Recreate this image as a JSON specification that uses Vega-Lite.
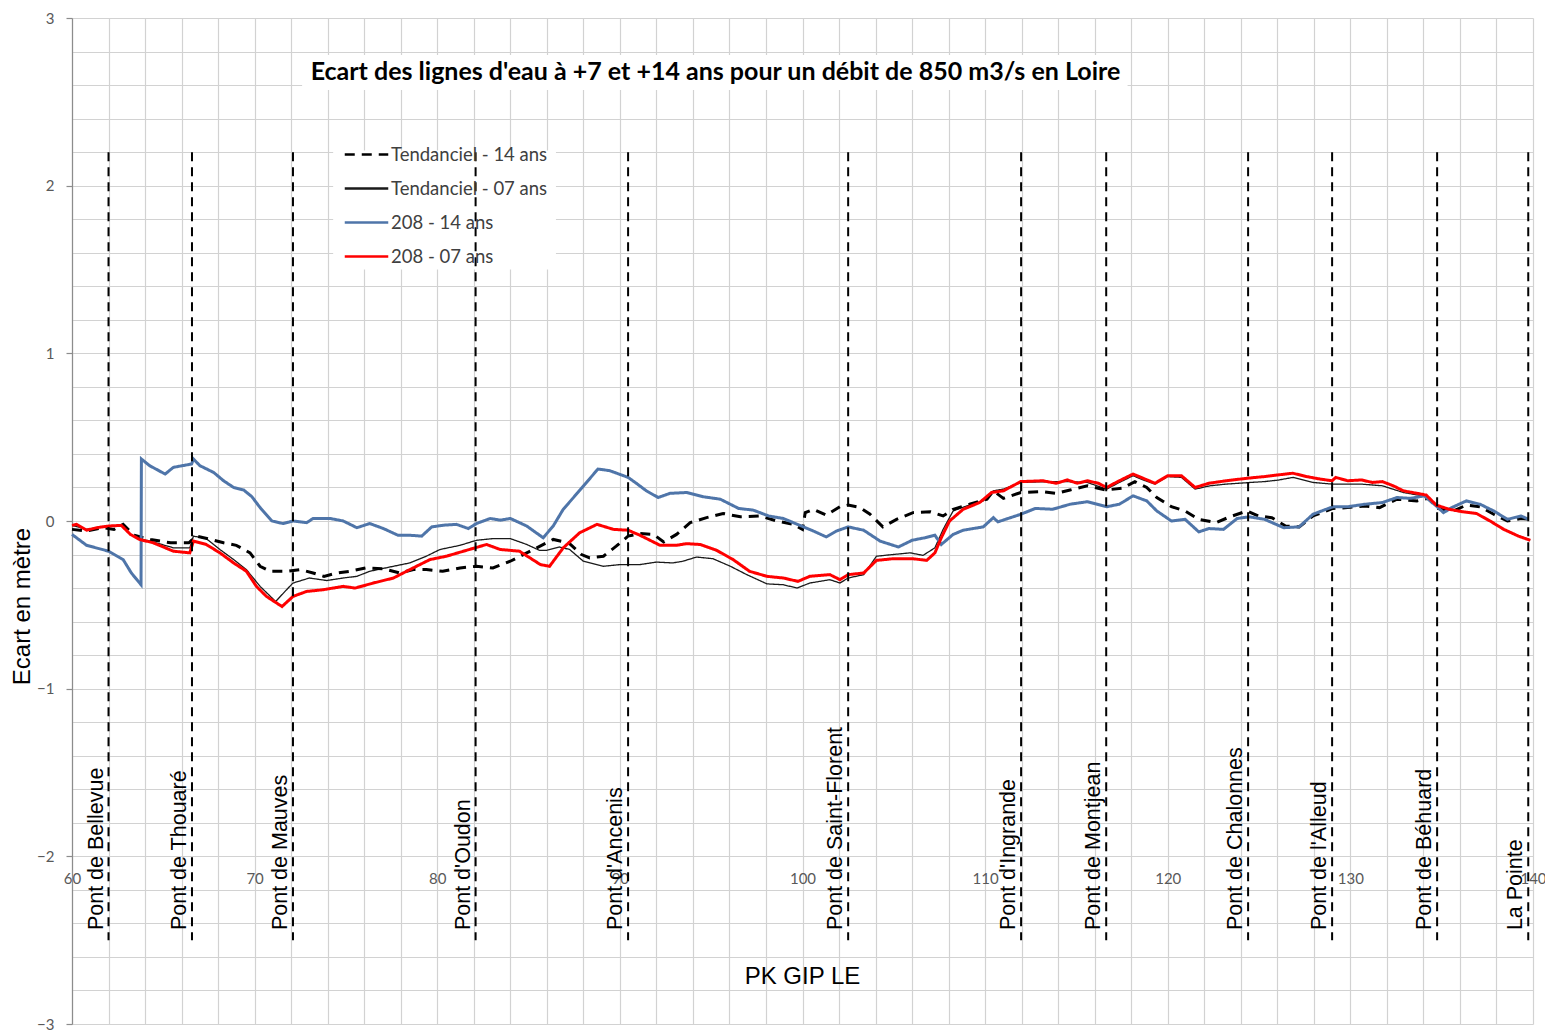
{
  "$schema": "https://vega.github.io/schema/vega-lite/v6.json",
  "width": 1461,
  "height": 1006,
  "autosize": {"type": "none"},
  "padding": {"left": 72, "top": 18, "right": 12, "bottom": 6},
  "background": "white",
  "config": {"view": {"stroke": null}, "font": "Liberation Sans"},
  "title": {
    "text": "Ecart des lignes d'eau à +7 et +14 ans pour un débit de  850 m3/s en Loire",
    "font": "Lato", "fontSize": 25, "fontWeight": "bold", "color": "#000000",
    "anchor": "middle", "frame": "group", "dx": -87, "offset": -94, "baseline": "alphabetic", "orient": "top"
  },
  "datasets": {
    "bridges": [
      {"name": "Pont de Bellevue", "pk": 62.0},
      {"name": "Pont de Thouaré", "pk": 66.57},
      {"name": "Pont de Mauves", "pk": 72.1},
      {"name": "Pont d'Oudon", "pk": 82.1},
      {"name": "Pont d'Ancenis", "pk": 90.45},
      {"name": "Pont de Saint-Florent", "pk": 102.5},
      {"name": "Pont d'Ingrande", "pk": 111.97},
      {"name": "Pont de Montjean", "pk": 116.63},
      {"name": "Pont de Chalonnes", "pk": 124.4},
      {"name": "Pont de l'Alleud", "pk": 129.0},
      {"name": "Pont de Béhuard", "pk": 134.75},
      {"name": "La Pointe", "pk": 139.74}
    ],
    "series": [
      {"serie":"Tendanciel - 14 ans","pk":60,"ecart":-0.05},{"serie":"Tendanciel - 14 ans","pk":60.8,"ecart":-0.06},{"serie":"Tendanciel - 14 ans","pk":61.7,"ecart":-0.04},{"serie":"Tendanciel - 14 ans","pk":62.3,"ecart":-0.05},{"serie":"Tendanciel - 14 ans","pk":62.8,"ecart":-0.02},{"serie":"Tendanciel - 14 ans","pk":63.4,"ecart":-0.085},{"serie":"Tendanciel - 14 ans","pk":64.3,"ecart":-0.11},{"serie":"Tendanciel - 14 ans","pk":65.4,"ecart":-0.13},{"serie":"Tendanciel - 14 ans","pk":66.4,"ecart":-0.13},{"serie":"Tendanciel - 14 ans","pk":66.8,"ecart":-0.09},{"serie":"Tendanciel - 14 ans","pk":67.6,"ecart":-0.11},{"serie":"Tendanciel - 14 ans","pk":68.3,"ecart":-0.13},{"serie":"Tendanciel - 14 ans","pk":69.0,"ecart":-0.145},{"serie":"Tendanciel - 14 ans","pk":69.75,"ecart":-0.19},{"serie":"Tendanciel - 14 ans","pk":70.3,"ecart":-0.27},{"serie":"Tendanciel - 14 ans","pk":70.85,"ecart":-0.3},{"serie":"Tendanciel - 14 ans","pk":71.75,"ecart":-0.3},{"serie":"Tendanciel - 14 ans","pk":72.5,"ecart":-0.29},{"serie":"Tendanciel - 14 ans","pk":73.2,"ecart":-0.31},{"serie":"Tendanciel - 14 ans","pk":73.8,"ecart":-0.33},{"serie":"Tendanciel - 14 ans","pk":74.5,"ecart":-0.31},{"serie":"Tendanciel - 14 ans","pk":75.2,"ecart":-0.3},{"serie":"Tendanciel - 14 ans","pk":76.1,"ecart":-0.28},{"serie":"Tendanciel - 14 ans","pk":77.05,"ecart":-0.285},{"serie":"Tendanciel - 14 ans","pk":77.95,"ecart":-0.31},{"serie":"Tendanciel - 14 ans","pk":78.7,"ecart":-0.29},{"serie":"Tendanciel - 14 ans","pk":79.4,"ecart":-0.29},{"serie":"Tendanciel - 14 ans","pk":80.3,"ecart":-0.3},{"serie":"Tendanciel - 14 ans","pk":81.25,"ecart":-0.28},{"serie":"Tendanciel - 14 ans","pk":82.15,"ecart":-0.27},{"serie":"Tendanciel - 14 ans","pk":83.05,"ecart":-0.28},{"serie":"Tendanciel - 14 ans","pk":84.0,"ecart":-0.24},{"serie":"Tendanciel - 14 ans","pk":84.55,"ecart":-0.21},{"serie":"Tendanciel - 14 ans","pk":85.45,"ecart":-0.16},{"serie":"Tendanciel - 14 ans","pk":86.35,"ecart":-0.11},{"serie":"Tendanciel - 14 ans","pk":87.2,"ecart":-0.13},{"serie":"Tendanciel - 14 ans","pk":87.9,"ecart":-0.2},{"serie":"Tendanciel - 14 ans","pk":88.35,"ecart":-0.22},{"serie":"Tendanciel - 14 ans","pk":89.1,"ecart":-0.21},{"serie":"Tendanciel - 14 ans","pk":89.8,"ecart":-0.15},{"serie":"Tendanciel - 14 ans","pk":90.45,"ecart":-0.09},{"serie":"Tendanciel - 14 ans","pk":91.1,"ecart":-0.075},{"serie":"Tendanciel - 14 ans","pk":91.85,"ecart":-0.08},{"serie":"Tendanciel - 14 ans","pk":92.4,"ecart":-0.125},{"serie":"Tendanciel - 14 ans","pk":93.1,"ecart":-0.08},{"serie":"Tendanciel - 14 ans","pk":93.85,"ecart":-0.01},{"serie":"Tendanciel - 14 ans","pk":94.75,"ecart":0.02},{"serie":"Tendanciel - 14 ans","pk":95.65,"ecart":0.045},{"serie":"Tendanciel - 14 ans","pk":96.6,"ecart":0.025},{"serie":"Tendanciel - 14 ans","pk":97.65,"ecart":0.03},{"serie":"Tendanciel - 14 ans","pk":98.6,"ecart":0.0},{"serie":"Tendanciel - 14 ans","pk":99.5,"ecart":-0.02},{"serie":"Tendanciel - 14 ans","pk":100.0,"ecart":-0.05},{"serie":"Tendanciel - 14 ans","pk":100.15,"ecart":0.05},{"serie":"Tendanciel - 14 ans","pk":100.6,"ecart":0.07},{"serie":"Tendanciel - 14 ans","pk":101.3,"ecart":0.035},{"serie":"Tendanciel - 14 ans","pk":102.05,"ecart":0.085},{"serie":"Tendanciel - 14 ans","pk":102.5,"ecart":0.095},{"serie":"Tendanciel - 14 ans","pk":103.15,"ecart":0.08},{"serie":"Tendanciel - 14 ans","pk":103.7,"ecart":0.04},{"serie":"Tendanciel - 14 ans","pk":104.4,"ecart":-0.035},{"serie":"Tendanciel - 14 ans","pk":105.15,"ecart":0.01},{"serie":"Tendanciel - 14 ans","pk":106.05,"ecart":0.05},{"serie":"Tendanciel - 14 ans","pk":107.0,"ecart":0.055},{"serie":"Tendanciel - 14 ans","pk":107.7,"ecart":0.03},{"serie":"Tendanciel - 14 ans","pk":108.25,"ecart":0.07},{"serie":"Tendanciel - 14 ans","pk":109.15,"ecart":0.1},{"serie":"Tendanciel - 14 ans","pk":110.1,"ecart":0.13},{"serie":"Tendanciel - 14 ans","pk":110.45,"ecart":0.18},{"serie":"Tendanciel - 14 ans","pk":111.0,"ecart":0.135},{"serie":"Tendanciel - 14 ans","pk":111.95,"ecart":0.17},{"serie":"Tendanciel - 14 ans","pk":113.15,"ecart":0.175},{"serie":"Tendanciel - 14 ans","pk":113.9,"ecart":0.165},{"serie":"Tendanciel - 14 ans","pk":114.65,"ecart":0.185},{"serie":"Tendanciel - 14 ans","pk":115.6,"ecart":0.21},{"serie":"Tendanciel - 14 ans","pk":116.6,"ecart":0.185},{"serie":"Tendanciel - 14 ans","pk":117.5,"ecart":0.195},{"serie":"Tendanciel - 14 ans","pk":118.2,"ecart":0.235},{"serie":"Tendanciel - 14 ans","pk":118.85,"ecart":0.2},{"serie":"Tendanciel - 14 ans","pk":119.4,"ecart":0.14},{"serie":"Tendanciel - 14 ans","pk":120.2,"ecart":0.085},{"serie":"Tendanciel - 14 ans","pk":120.95,"ecart":0.06},{"serie":"Tendanciel - 14 ans","pk":121.7,"ecart":0.01},{"serie":"Tendanciel - 14 ans","pk":122.65,"ecart":-0.01},{"serie":"Tendanciel - 14 ans","pk":123.4,"ecart":0.025},{"serie":"Tendanciel - 14 ans","pk":124.35,"ecart":0.06},{"serie":"Tendanciel - 14 ans","pk":124.95,"ecart":0.03},{"serie":"Tendanciel - 14 ans","pk":125.7,"ecart":0.02},{"serie":"Tendanciel - 14 ans","pk":126.45,"ecart":-0.03},{"serie":"Tendanciel - 14 ans","pk":127.2,"ecart":-0.035},{"serie":"Tendanciel - 14 ans","pk":127.95,"ecart":0.03},{"serie":"Tendanciel - 14 ans","pk":129.05,"ecart":0.075},{"serie":"Tendanciel - 14 ans","pk":129.85,"ecart":0.08},{"serie":"Tendanciel - 14 ans","pk":130.8,"ecart":0.09},{"serie":"Tendanciel - 14 ans","pk":131.6,"ecart":0.08},{"serie":"Tendanciel - 14 ans","pk":132.55,"ecart":0.13},{"serie":"Tendanciel - 14 ans","pk":133.65,"ecart":0.12},{"serie":"Tendanciel - 14 ans","pk":134.25,"ecart":0.135},{"serie":"Tendanciel - 14 ans","pk":134.8,"ecart":0.075},{"serie":"Tendanciel - 14 ans","pk":135.55,"ecart":0.055},{"serie":"Tendanciel - 14 ans","pk":136.35,"ecart":0.095},{"serie":"Tendanciel - 14 ans","pk":137.1,"ecart":0.085},{"serie":"Tendanciel - 14 ans","pk":137.85,"ecart":0.04},{"serie":"Tendanciel - 14 ans","pk":138.6,"ecart":0.0},{"serie":"Tendanciel - 14 ans","pk":139.35,"ecart":0.015},{"serie":"Tendanciel - 14 ans","pk":139.85,"ecart":0.01},

      {"serie":"Tendanciel - 07 ans","pk":60,"ecart":-0.026},{"serie":"Tendanciel - 07 ans","pk":60.8,"ecart":-0.05},{"serie":"Tendanciel - 07 ans","pk":61.35,"ecart":-0.04},{"serie":"Tendanciel - 07 ans","pk":62.0,"ecart":-0.03},{"serie":"Tendanciel - 07 ans","pk":62.7,"ecart":-0.026},{"serie":"Tendanciel - 07 ans","pk":63.2,"ecart":-0.08},{"serie":"Tendanciel - 07 ans","pk":63.7,"ecart":-0.105},{"serie":"Tendanciel - 07 ans","pk":64.45,"ecart":-0.125},{"serie":"Tendanciel - 07 ans","pk":65.55,"ecart":-0.16},{"serie":"Tendanciel - 07 ans","pk":66.45,"ecart":-0.16},{"serie":"Tendanciel - 07 ans","pk":66.65,"ecart":-0.09},{"serie":"Tendanciel - 07 ans","pk":67.35,"ecart":-0.105},{"serie":"Tendanciel - 07 ans","pk":68.1,"ecart":-0.17},{"serie":"Tendanciel - 07 ans","pk":68.85,"ecart":-0.23},{"serie":"Tendanciel - 07 ans","pk":69.55,"ecart":-0.29},{"serie":"Tendanciel - 07 ans","pk":70.3,"ecart":-0.39},{"serie":"Tendanciel - 07 ans","pk":71.15,"ecart":-0.48},{"serie":"Tendanciel - 07 ans","pk":71.75,"ecart":-0.41},{"serie":"Tendanciel - 07 ans","pk":72.1,"ecart":-0.37},{"serie":"Tendanciel - 07 ans","pk":73.0,"ecart":-0.34},{"serie":"Tendanciel - 07 ans","pk":73.95,"ecart":-0.355},{"serie":"Tendanciel - 07 ans","pk":74.85,"ecart":-0.34},{"serie":"Tendanciel - 07 ans","pk":75.6,"ecart":-0.33},{"serie":"Tendanciel - 07 ans","pk":76.3,"ecart":-0.3},{"serie":"Tendanciel - 07 ans","pk":77.6,"ecart":-0.27},{"serie":"Tendanciel - 07 ans","pk":78.5,"ecart":-0.25},{"serie":"Tendanciel - 07 ans","pk":79.4,"ecart":-0.21},{"serie":"Tendanciel - 07 ans","pk":80.15,"ecart":-0.17},{"serie":"Tendanciel - 07 ans","pk":81.25,"ecart":-0.145},{"serie":"Tendanciel - 07 ans","pk":82.15,"ecart":-0.115},{"serie":"Tendanciel - 07 ans","pk":83.05,"ecart":-0.105},{"serie":"Tendanciel - 07 ans","pk":84.0,"ecart":-0.105},{"serie":"Tendanciel - 07 ans","pk":84.9,"ecart":-0.14},{"serie":"Tendanciel - 07 ans","pk":85.6,"ecart":-0.175},{"serie":"Tendanciel - 07 ans","pk":86.0,"ecart":-0.175},{"serie":"Tendanciel - 07 ans","pk":86.7,"ecart":-0.155},{"serie":"Tendanciel - 07 ans","pk":87.25,"ecart":-0.17},{"serie":"Tendanciel - 07 ans","pk":88.0,"ecart":-0.24},{"serie":"Tendanciel - 07 ans","pk":89.1,"ecart":-0.27},{"serie":"Tendanciel - 07 ans","pk":90.0,"ecart":-0.26},{"serie":"Tendanciel - 07 ans","pk":91.1,"ecart":-0.26},{"serie":"Tendanciel - 07 ans","pk":92.0,"ecart":-0.245},{"serie":"Tendanciel - 07 ans","pk":92.9,"ecart":-0.25},{"serie":"Tendanciel - 07 ans","pk":93.45,"ecart":-0.24},{"serie":"Tendanciel - 07 ans","pk":94.2,"ecart":-0.215},{"serie":"Tendanciel - 07 ans","pk":95.1,"ecart":-0.225},{"serie":"Tendanciel - 07 ans","pk":96.05,"ecart":-0.27},{"serie":"Tendanciel - 07 ans","pk":96.95,"ecart":-0.32},{"serie":"Tendanciel - 07 ans","pk":98.05,"ecart":-0.375},{"serie":"Tendanciel - 07 ans","pk":98.95,"ecart":-0.38},{"serie":"Tendanciel - 07 ans","pk":99.7,"ecart":-0.4},{"serie":"Tendanciel - 07 ans","pk":100.4,"ecart":-0.37},{"serie":"Tendanciel - 07 ans","pk":101.5,"ecart":-0.35},{"serie":"Tendanciel - 07 ans","pk":102.05,"ecart":-0.37},{"serie":"Tendanciel - 07 ans","pk":102.5,"ecart":-0.34},{"serie":"Tendanciel - 07 ans","pk":103.35,"ecart":-0.32},{"serie":"Tendanciel - 07 ans","pk":104.05,"ecart":-0.21},{"serie":"Tendanciel - 07 ans","pk":104.95,"ecart":-0.2},{"serie":"Tendanciel - 07 ans","pk":105.9,"ecart":-0.19},{"serie":"Tendanciel - 07 ans","pk":106.6,"ecart":-0.205},{"serie":"Tendanciel - 07 ans","pk":107.25,"ecart":-0.16},{"serie":"Tendanciel - 07 ans","pk":107.7,"ecart":-0.05},{"serie":"Tendanciel - 07 ans","pk":108.25,"ecart":0.06},{"serie":"Tendanciel - 07 ans","pk":109.0,"ecart":0.09},{"serie":"Tendanciel - 07 ans","pk":109.9,"ecart":0.12},{"serie":"Tendanciel - 07 ans","pk":110.45,"ecart":0.18},{"serie":"Tendanciel - 07 ans","pk":111.0,"ecart":0.19},{"serie":"Tendanciel - 07 ans","pk":111.95,"ecart":0.23},{"serie":"Tendanciel - 07 ans","pk":113.15,"ecart":0.234},{"serie":"Tendanciel - 07 ans","pk":114.5,"ecart":0.235},{"serie":"Tendanciel - 07 ans","pk":115.6,"ecart":0.23},{"serie":"Tendanciel - 07 ans","pk":116.65,"ecart":0.19},{"serie":"Tendanciel - 07 ans","pk":117.35,"ecart":0.23},{"serie":"Tendanciel - 07 ans","pk":118.1,"ecart":0.27},{"serie":"Tendanciel - 07 ans","pk":118.65,"ecart":0.245},{"serie":"Tendanciel - 07 ans","pk":119.3,"ecart":0.22},{"serie":"Tendanciel - 07 ans","pk":120.0,"ecart":0.265},{"serie":"Tendanciel - 07 ans","pk":120.75,"ecart":0.26},{"serie":"Tendanciel - 07 ans","pk":121.5,"ecart":0.19},{"serie":"Tendanciel - 07 ans","pk":122.3,"ecart":0.21},{"serie":"Tendanciel - 07 ans","pk":123.2,"ecart":0.22},{"serie":"Tendanciel - 07 ans","pk":124.55,"ecart":0.23},{"serie":"Tendanciel - 07 ans","pk":125.3,"ecart":0.235},{"serie":"Tendanciel - 07 ans","pk":126.05,"ecart":0.244},{"serie":"Tendanciel - 07 ans","pk":126.85,"ecart":0.26},{"serie":"Tendanciel - 07 ans","pk":127.95,"ecart":0.23},{"serie":"Tendanciel - 07 ans","pk":129.0,"ecart":0.22},{"serie":"Tendanciel - 07 ans","pk":130.6,"ecart":0.22},{"serie":"Tendanciel - 07 ans","pk":131.75,"ecart":0.21},{"serie":"Tendanciel - 07 ans","pk":132.9,"ecart":0.17},{"serie":"Tendanciel - 07 ans","pk":134.15,"ecart":0.146},{"serie":"Tendanciel - 07 ans","pk":134.7,"ecart":0.09},{"serie":"Tendanciel - 07 ans","pk":135.4,"ecart":0.07},{"serie":"Tendanciel - 07 ans","pk":136.15,"ecart":0.056},{"serie":"Tendanciel - 07 ans","pk":136.9,"ecart":0.044},{"serie":"Tendanciel - 07 ans","pk":137.65,"ecart":0.0},{"serie":"Tendanciel - 07 ans","pk":138.4,"ecart":-0.05},{"serie":"Tendanciel - 07 ans","pk":139.2,"ecart":-0.09},{"serie":"Tendanciel - 07 ans","pk":139.85,"ecart":-0.114},

      {"serie":"208 - 14 ans","pk":60,"ecart":-0.08},{"serie":"208 - 14 ans","pk":60.8,"ecart":-0.145},{"serie":"208 - 14 ans","pk":62.0,"ecart":-0.18},{"serie":"208 - 14 ans","pk":62.8,"ecart":-0.23},{"serie":"208 - 14 ans","pk":63.25,"ecart":-0.31},{"serie":"208 - 14 ans","pk":63.78,"ecart":-0.38},{"serie":"208 - 14 ans","pk":63.8,"ecart":0.37},{"serie":"208 - 14 ans","pk":64.25,"ecart":0.33},{"serie":"208 - 14 ans","pk":65.1,"ecart":0.28},{"serie":"208 - 14 ans","pk":65.55,"ecart":0.32},{"serie":"208 - 14 ans","pk":66.55,"ecart":0.34},{"serie":"208 - 14 ans","pk":66.65,"ecart":0.37},{"serie":"208 - 14 ans","pk":67.0,"ecart":0.33},{"serie":"208 - 14 ans","pk":67.75,"ecart":0.29},{"serie":"208 - 14 ans","pk":68.3,"ecart":0.24},{"serie":"208 - 14 ans","pk":68.85,"ecart":0.2},{"serie":"208 - 14 ans","pk":69.4,"ecart":0.185},{"serie":"208 - 14 ans","pk":69.85,"ecart":0.145},{"serie":"208 - 14 ans","pk":70.3,"ecart":0.08},{"serie":"208 - 14 ans","pk":70.95,"ecart":0.0},{"serie":"208 - 14 ans","pk":71.55,"ecart":-0.015},{"serie":"208 - 14 ans","pk":72.1,"ecart":0.0},{"serie":"208 - 14 ans","pk":72.85,"ecart":-0.01},{"serie":"208 - 14 ans","pk":73.2,"ecart":0.015},{"serie":"208 - 14 ans","pk":74.15,"ecart":0.015},{"serie":"208 - 14 ans","pk":74.85,"ecart":0.0},{"serie":"208 - 14 ans","pk":75.6,"ecart":-0.04},{"serie":"208 - 14 ans","pk":76.3,"ecart":-0.015},{"serie":"208 - 14 ans","pk":77.05,"ecart":-0.045},{"serie":"208 - 14 ans","pk":77.85,"ecart":-0.085},{"serie":"208 - 14 ans","pk":78.5,"ecart":-0.085},{"serie":"208 - 14 ans","pk":79.15,"ecart":-0.09},{"serie":"208 - 14 ans","pk":79.7,"ecart":-0.035},{"serie":"208 - 14 ans","pk":80.35,"ecart":-0.025},{"serie":"208 - 14 ans","pk":81.05,"ecart":-0.02},{"serie":"208 - 14 ans","pk":81.7,"ecart":-0.045},{"serie":"208 - 14 ans","pk":82.15,"ecart":-0.015},{"serie":"208 - 14 ans","pk":82.9,"ecart":0.015},{"serie":"208 - 14 ans","pk":83.45,"ecart":0.005},{"serie":"208 - 14 ans","pk":84.0,"ecart":0.015},{"serie":"208 - 14 ans","pk":84.9,"ecart":-0.03},{"serie":"208 - 14 ans","pk":85.8,"ecart":-0.1},{"serie":"208 - 14 ans","pk":86.35,"ecart":-0.03},{"serie":"208 - 14 ans","pk":86.9,"ecart":0.07},{"serie":"208 - 14 ans","pk":87.7,"ecart":0.17},{"serie":"208 - 14 ans","pk":88.25,"ecart":0.24},{"serie":"208 - 14 ans","pk":88.8,"ecart":0.31},{"serie":"208 - 14 ans","pk":89.45,"ecart":0.3},{"serie":"208 - 14 ans","pk":90.45,"ecart":0.26},{"serie":"208 - 14 ans","pk":90.9,"ecart":0.225},{"serie":"208 - 14 ans","pk":91.45,"ecart":0.18},{"serie":"208 - 14 ans","pk":92.1,"ecart":0.14},{"serie":"208 - 14 ans","pk":92.75,"ecart":0.165},{"serie":"208 - 14 ans","pk":93.65,"ecart":0.17},{"serie":"208 - 14 ans","pk":94.55,"ecart":0.145},{"serie":"208 - 14 ans","pk":95.5,"ecart":0.13},{"serie":"208 - 14 ans","pk":96.5,"ecart":0.075},{"serie":"208 - 14 ans","pk":97.3,"ecart":0.065},{"serie":"208 - 14 ans","pk":98.15,"ecart":0.03},{"serie":"208 - 14 ans","pk":98.95,"ecart":0.015},{"serie":"208 - 14 ans","pk":100.05,"ecart":-0.035},{"serie":"208 - 14 ans","pk":100.6,"ecart":-0.06},{"serie":"208 - 14 ans","pk":101.3,"ecart":-0.095},{"serie":"208 - 14 ans","pk":101.85,"ecart":-0.06},{"serie":"208 - 14 ans","pk":102.5,"ecart":-0.035},{"serie":"208 - 14 ans","pk":103.35,"ecart":-0.055},{"serie":"208 - 14 ans","pk":104.25,"ecart":-0.12},{"serie":"208 - 14 ans","pk":105.25,"ecart":-0.155},{"serie":"208 - 14 ans","pk":106.0,"ecart":-0.115},{"serie":"208 - 14 ans","pk":106.7,"ecart":-0.1},{"serie":"208 - 14 ans","pk":107.25,"ecart":-0.085},{"serie":"208 - 14 ans","pk":107.6,"ecart":-0.14},{"serie":"208 - 14 ans","pk":108.25,"ecart":-0.08},{"serie":"208 - 14 ans","pk":108.8,"ecart":-0.055},{"serie":"208 - 14 ans","pk":109.9,"ecart":-0.035},{"serie":"208 - 14 ans","pk":110.45,"ecart":0.02},{"serie":"208 - 14 ans","pk":110.7,"ecart":-0.005},{"serie":"208 - 14 ans","pk":111.95,"ecart":0.04},{"serie":"208 - 14 ans","pk":112.75,"ecart":0.075},{"serie":"208 - 14 ans","pk":113.7,"ecart":0.07},{"serie":"208 - 14 ans","pk":114.65,"ecart":0.1},{"serie":"208 - 14 ans","pk":115.6,"ecart":0.115},{"serie":"208 - 14 ans","pk":116.65,"ecart":0.085},{"serie":"208 - 14 ans","pk":117.35,"ecart":0.1},{"serie":"208 - 14 ans","pk":118.1,"ecart":0.15},{"serie":"208 - 14 ans","pk":118.85,"ecart":0.12},{"serie":"208 - 14 ans","pk":119.4,"ecart":0.06},{"serie":"208 - 14 ans","pk":120.2,"ecart":0.0},{"serie":"208 - 14 ans","pk":120.95,"ecart":0.01},{"serie":"208 - 14 ans","pk":121.7,"ecart":-0.065},{"serie":"208 - 14 ans","pk":122.25,"ecart":-0.045},{"serie":"208 - 14 ans","pk":123.05,"ecart":-0.05},{"serie":"208 - 14 ans","pk":123.8,"ecart":0.015},{"serie":"208 - 14 ans","pk":124.45,"ecart":0.025},{"serie":"208 - 14 ans","pk":125.3,"ecart":0.01},{"serie":"208 - 14 ans","pk":126.35,"ecart":-0.04},{"serie":"208 - 14 ans","pk":127.2,"ecart":-0.035},{"serie":"208 - 14 ans","pk":127.95,"ecart":0.04},{"serie":"208 - 14 ans","pk":128.55,"ecart":0.065},{"serie":"208 - 14 ans","pk":129.05,"ecart":0.085},{"serie":"208 - 14 ans","pk":129.85,"ecart":0.085},{"serie":"208 - 14 ans","pk":130.8,"ecart":0.1},{"serie":"208 - 14 ans","pk":131.75,"ecart":0.11},{"serie":"208 - 14 ans","pk":132.55,"ecart":0.14},{"serie":"208 - 14 ans","pk":133.3,"ecart":0.135},{"serie":"208 - 14 ans","pk":134.05,"ecart":0.15},{"serie":"208 - 14 ans","pk":134.7,"ecart":0.09},{"serie":"208 - 14 ans","pk":135.1,"ecart":0.05},{"serie":"208 - 14 ans","pk":135.55,"ecart":0.08},{"serie":"208 - 14 ans","pk":136.35,"ecart":0.12},{"serie":"208 - 14 ans","pk":137.1,"ecart":0.1},{"serie":"208 - 14 ans","pk":137.85,"ecart":0.06},{"serie":"208 - 14 ans","pk":138.6,"ecart":0.01},{"serie":"208 - 14 ans","pk":139.35,"ecart":0.03},{"serie":"208 - 14 ans","pk":139.75,"ecart":0.01},

      {"serie":"208 - 07 ans","pk":60,"ecart":-0.026},{"serie":"208 - 07 ans","pk":60.25,"ecart":-0.02},{"serie":"208 - 07 ans","pk":60.8,"ecart":-0.055},{"serie":"208 - 07 ans","pk":61.35,"ecart":-0.04},{"serie":"208 - 07 ans","pk":62.0,"ecart":-0.03},{"serie":"208 - 07 ans","pk":62.7,"ecart":-0.026},{"serie":"208 - 07 ans","pk":63.2,"ecart":-0.08},{"serie":"208 - 07 ans","pk":63.7,"ecart":-0.11},{"serie":"208 - 07 ans","pk":64.45,"ecart":-0.13},{"serie":"208 - 07 ans","pk":65.55,"ecart":-0.18},{"serie":"208 - 07 ans","pk":66.45,"ecart":-0.19},{"serie":"208 - 07 ans","pk":66.65,"ecart":-0.12},{"serie":"208 - 07 ans","pk":67.35,"ecart":-0.14},{"serie":"208 - 07 ans","pk":68.1,"ecart":-0.19},{"serie":"208 - 07 ans","pk":68.85,"ecart":-0.25},{"serie":"208 - 07 ans","pk":69.55,"ecart":-0.3},{"serie":"208 - 07 ans","pk":70.1,"ecart":-0.39},{"serie":"208 - 07 ans","pk":70.65,"ecart":-0.45},{"serie":"208 - 07 ans","pk":71.5,"ecart":-0.51},{"serie":"208 - 07 ans","pk":72.1,"ecart":-0.45},{"serie":"208 - 07 ans","pk":72.85,"ecart":-0.42},{"serie":"208 - 07 ans","pk":73.75,"ecart":-0.41},{"serie":"208 - 07 ans","pk":74.85,"ecart":-0.39},{"serie":"208 - 07 ans","pk":75.5,"ecart":-0.4},{"serie":"208 - 07 ans","pk":76.5,"ecart":-0.37},{"serie":"208 - 07 ans","pk":77.6,"ecart":-0.34},{"serie":"208 - 07 ans","pk":78.5,"ecart":-0.29},{"serie":"208 - 07 ans","pk":79.6,"ecart":-0.23},{"serie":"208 - 07 ans","pk":80.5,"ecart":-0.21},{"serie":"208 - 07 ans","pk":81.6,"ecart":-0.175},{"serie":"208 - 07 ans","pk":82.7,"ecart":-0.14},{"serie":"208 - 07 ans","pk":83.45,"ecart":-0.17},{"serie":"208 - 07 ans","pk":84.5,"ecart":-0.18},{"serie":"208 - 07 ans","pk":85.65,"ecart":-0.26},{"serie":"208 - 07 ans","pk":86.15,"ecart":-0.27},{"serie":"208 - 07 ans","pk":86.9,"ecart":-0.16},{"serie":"208 - 07 ans","pk":87.8,"ecart":-0.07},{"serie":"208 - 07 ans","pk":88.75,"ecart":-0.02},{"serie":"208 - 07 ans","pk":89.65,"ecart":-0.05},{"serie":"208 - 07 ans","pk":90.45,"ecart":-0.055},{"serie":"208 - 07 ans","pk":91.1,"ecart":-0.085},{"serie":"208 - 07 ans","pk":92.2,"ecart":-0.145},{"serie":"208 - 07 ans","pk":93.1,"ecart":-0.145},{"serie":"208 - 07 ans","pk":93.65,"ecart":-0.135},{"serie":"208 - 07 ans","pk":94.4,"ecart":-0.14},{"serie":"208 - 07 ans","pk":95.3,"ecart":-0.175},{"serie":"208 - 07 ans","pk":96.2,"ecart":-0.23},{"serie":"208 - 07 ans","pk":97.1,"ecart":-0.3},{"serie":"208 - 07 ans","pk":98.05,"ecart":-0.33},{"serie":"208 - 07 ans","pk":98.95,"ecart":-0.34},{"serie":"208 - 07 ans","pk":99.75,"ecart":-0.36},{"serie":"208 - 07 ans","pk":100.4,"ecart":-0.33},{"serie":"208 - 07 ans","pk":101.5,"ecart":-0.32},{"serie":"208 - 07 ans","pk":102.05,"ecart":-0.35},{"serie":"208 - 07 ans","pk":102.5,"ecart":-0.32},{"serie":"208 - 07 ans","pk":103.35,"ecart":-0.31},{"serie":"208 - 07 ans","pk":104.05,"ecart":-0.235},{"serie":"208 - 07 ans","pk":104.95,"ecart":-0.225},{"serie":"208 - 07 ans","pk":106.05,"ecart":-0.225},{"serie":"208 - 07 ans","pk":106.8,"ecart":-0.235},{"serie":"208 - 07 ans","pk":107.25,"ecart":-0.19},{"serie":"208 - 07 ans","pk":107.6,"ecart":-0.1},{"serie":"208 - 07 ans","pk":108.05,"ecart":0.0},{"serie":"208 - 07 ans","pk":108.8,"ecart":0.07},{"serie":"208 - 07 ans","pk":109.7,"ecart":0.11},{"serie":"208 - 07 ans","pk":110.35,"ecart":0.17},{"serie":"208 - 07 ans","pk":111.0,"ecart":0.18},{"serie":"208 - 07 ans","pk":111.95,"ecart":0.235},{"serie":"208 - 07 ans","pk":113.15,"ecart":0.24},{"serie":"208 - 07 ans","pk":113.9,"ecart":0.225},{"serie":"208 - 07 ans","pk":114.5,"ecart":0.245},{"serie":"208 - 07 ans","pk":115.05,"ecart":0.225},{"serie":"208 - 07 ans","pk":115.6,"ecart":0.24},{"serie":"208 - 07 ans","pk":116.2,"ecart":0.225},{"serie":"208 - 07 ans","pk":116.65,"ecart":0.2},{"serie":"208 - 07 ans","pk":117.35,"ecart":0.24},{"serie":"208 - 07 ans","pk":118.1,"ecart":0.28},{"serie":"208 - 07 ans","pk":118.65,"ecart":0.255},{"serie":"208 - 07 ans","pk":119.3,"ecart":0.225},{"serie":"208 - 07 ans","pk":120.0,"ecart":0.27},{"serie":"208 - 07 ans","pk":120.75,"ecart":0.27},{"serie":"208 - 07 ans","pk":121.5,"ecart":0.2},{"serie":"208 - 07 ans","pk":122.25,"ecart":0.225},{"serie":"208 - 07 ans","pk":123.2,"ecart":0.24},{"serie":"208 - 07 ans","pk":124.35,"ecart":0.255},{"serie":"208 - 07 ans","pk":125.3,"ecart":0.265},{"serie":"208 - 07 ans","pk":126.05,"ecart":0.275},{"serie":"208 - 07 ans","pk":126.85,"ecart":0.285},{"serie":"208 - 07 ans","pk":127.6,"ecart":0.265},{"serie":"208 - 07 ans","pk":128.35,"ecart":0.25},{"serie":"208 - 07 ans","pk":129.0,"ecart":0.24},{"serie":"208 - 07 ans","pk":129.2,"ecart":0.26},{"serie":"208 - 07 ans","pk":129.85,"ecart":0.24},{"serie":"208 - 07 ans","pk":130.6,"ecart":0.245},{"serie":"208 - 07 ans","pk":131.2,"ecart":0.23},{"serie":"208 - 07 ans","pk":131.75,"ecart":0.235},{"serie":"208 - 07 ans","pk":132.35,"ecart":0.21},{"serie":"208 - 07 ans","pk":132.9,"ecart":0.18},{"serie":"208 - 07 ans","pk":133.65,"ecart":0.165},{"serie":"208 - 07 ans","pk":134.15,"ecart":0.155},{"serie":"208 - 07 ans","pk":134.7,"ecart":0.095},{"serie":"208 - 07 ans","pk":135.4,"ecart":0.07},{"serie":"208 - 07 ans","pk":136.15,"ecart":0.055},{"serie":"208 - 07 ans","pk":136.9,"ecart":0.045},{"serie":"208 - 07 ans","pk":137.65,"ecart":0.0},{"serie":"208 - 07 ans","pk":138.4,"ecart":-0.05},{"serie":"208 - 07 ans","pk":139.2,"ecart":-0.09},{"serie":"208 - 07 ans","pk":139.85,"ecart":-0.115}
    ]
  },
  "layer": [
    {
      "data": {"values": [{}]},
      "mark": {"type": "rect", "color": "white"},
      "encoding": {
        "x": {"datum": 72.6, "type": "quantitative", "axis": null},
        "x2": {"datum": 117.8},
        "y": {"datum": 2.78, "type": "quantitative", "axis": null},
        "y2": {"datum": 2.57}
      }
    },
    {
      "data": {"values": [{}]},
      "mark": {"type": "rect", "color": "white"},
      "encoding": {
        "x": {"datum": 74.3, "type": "quantitative", "axis": null},
        "x2": {"datum": 86.5},
        "y": {"datum": 2.21, "type": "quantitative", "axis": null},
        "y2": {"datum": 1.5}
      }
    },
    {
      "data": {"name": "series"},
      "transform": [{"filter": "datum.serie === 'Tendanciel - 07 ans'"}],
      "mark": {"type": "line", "strokeWidth": 1.3, "interpolate": "linear"},
      "encoding": {
        "x": {
          "field": "pk", "type": "quantitative",
          "scale": {"domain": [60, 140], "nice": false, "zero": false},
          "axis": {
            "orient": "top", "values": [60,62,64,66,68,70,72,74,76,78,80,82,84,86,88,90,92,94,96,98,100,102,104,106,108,110,112,114,116,118,120,122,124,126,128,130,132,134,136,138,140],
            "grid": true, "gridColor": "#d2d2d2", "gridWidth": 1.2,
            "labels": false, "ticks": false, "domain": false, "title": null
          }
        },
        "y": {
          "field": "ecart", "type": "quantitative",
          "scale": {"domain": [-3, 3], "nice": false, "zero": false},
          "axis": {
            "orient": "left", "values": [-3, -2, -1, 0, 1, 2, 3], "format": "d",
            "grid": false,
            "domain": true, "domainColor": "#8c8c8c", "domainWidth": 1.2,
            "ticks": true, "tickColor": "#8c8c8c", "tickSize": 6, "tickWidth": 1.2,
            "labelFont": "Lato", "labelFontSize": 15, "labelColor": "#595959", "labelPadding": 12,
            "labelOverlap": false, "labelBound": false, "labelFlush": false,
            "title": "Ecart en mètre", "titleFont": "Liberation Sans", "titleFontSize": 24, "titleFontWeight": "normal",
            "titleColor": "#000000", "titleX": -50, "titleY": 588, "titleAngle": 270, "titleAlign": "center", "titleBaseline": "middle"
          }
        },
        "color": {
          "field": "serie", "type": "nominal",
          "scale": {"domain": ["Tendanciel - 14 ans", "Tendanciel - 07 ans", "208 - 14 ans", "208 - 07 ans"], "range": ["#000000", "#1a1a1a", "#4f75a9", "#ff0000"]},
          "legend": {
            "orient": "none", "legendX": 278, "legendY": 120, "title": null,
            "symbolType": "M-1.45,0H1.45", "symbolSize": 900, "symbolStrokeWidth": 2.5,
            "labelFont": "Lato", "labelFontSize": 18.5, "labelColor": "#404040", "labelOffset": 8,
            "rowPadding": 8, "padding": 0
          }
        },
        "strokeDash": {
          "field": "serie", "type": "nominal",
          "scale": {"domain": ["Tendanciel - 14 ans", "Tendanciel - 07 ans", "208 - 14 ans", "208 - 07 ans"], "range": [[10, 7], [1, 0], [1, 0], [1, 0]]}
        }
      }
    },
    {
      "data": {"name": "series"},
      "transform": [{"filter": "datum.serie !== 'Tendanciel - 07 ans'"}],
      "mark": {"type": "line", "strokeWidth": 3, "interpolate": "linear"},
      "encoding": {
        "x": {"field": "pk", "type": "quantitative", "axis": null},
        "y": {
          "field": "ecart", "type": "quantitative",
          "axis": {
            "orient": "right", "values": [-3,-2.8,-2.6,-2.4,-2.2,-2,-1.8,-1.6,-1.4,-1.2,-1,-0.8,-0.6,-0.4,-0.2,0,0.2,0.4,0.6,0.8,1,1.2,1.4,1.6,1.8,2,2.2,2.4,2.6,2.8,3],
            "grid": true, "gridColor": "#d2d2d2", "gridWidth": 1.2,
            "labels": false, "ticks": false, "domain": false, "title": null
          }
        },
        "color": {"field": "serie", "type": "nominal"},
        "strokeDash": {"field": "serie", "type": "nominal"}
      }
    },
    {
      "data": {"name": "bridges"},
      "mark": {"type": "rule", "strokeDash": [9, 6], "strokeWidth": 2, "color": "#000000"},
      "encoding": {
        "x": {"field": "pk", "type": "quantitative", "axis": null},
        "y": {"datum": 2.2, "type": "quantitative", "axis": null},
        "y2": {"datum": -2.5}
      }
    },
    {
      "data": {"name": "bridges"},
      "mark": {"type": "text", "angle": 270, "align": "left", "baseline": "alphabetic", "dy": -6, "font": "Liberation Sans", "fontSize": 21.5, "color": "#000000"},
      "encoding": {
        "x": {
          "field": "pk", "type": "quantitative",
          "axis": {
            "orient": "bottom", "offset": -167, "values": [60, 70, 80, 90, 100, 110, 120, 130, 140],
            "grid": false, "domain": false, "ticks": false,
            "labelFont": "Lato", "labelFontSize": 15, "labelColor": "#595959", "labelPadding": 14,
            "labelOverlap": false, "labelFlush": false, "labelBound": false,
            "title": "PK GIP LE", "titleFont": "Liberation Sans", "titleFontSize": 24, "titleFontWeight": "normal",
            "titleColor": "#000000", "titleX": 730, "titleY": 107, "titleBaseline": "top", "titleAlign": "center"
          }
        },
        "y": {"datum": -2.44, "type": "quantitative", "axis": null},
        "text": {"field": "name", "type": "nominal"}
      }
    }
  ],
  "resolve": {"axis": {"x": "independent", "y": "independent"}}
}
